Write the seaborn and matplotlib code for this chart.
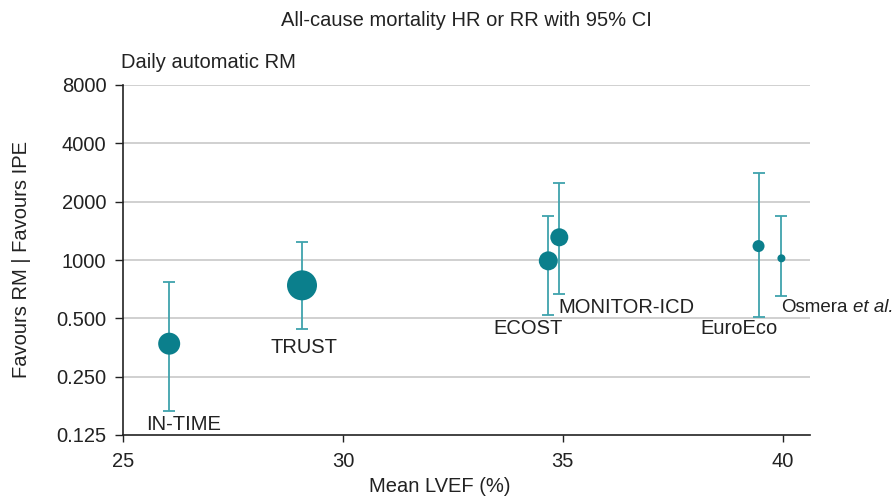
import numpy as np
import pandas as pd
import matplotlib
matplotlib.use("Agg")
import matplotlib.pyplot as plt
import seaborn as sns

# ---- data ----
studies = ["IN-TIME", "TRUST", "ECOST", "MONITOR-ICD", "EuroEco", "Osmera et al."]
lvef = [26.05, 29.07, 34.67, 34.92, 39.45, 39.97]
hr = [0.37, 0.74, 0.99, 1.31, 1.18, 1.02]
ci_low = [0.166, 0.44, 0.52, 0.67, 0.51, 0.65]
ci_high = [0.77, 1.24, 1.69, 2.50, 2.81, 1.69]
weight = [22, 30, 19, 18, 12, 8]  # marker diameters (px)
ytick_vals = [0.125, 0.25, 0.5, 1, 2, 4, 8]
ytick_labels = ["0.125", "0.250", "0.500", "1000", "2000", "4000", "8000"]
xtick_vals = [25, 30, 35, 40]

df = pd.DataFrame({"study": studies, "lvef": lvef, "hr": hr,
                   "lo": ci_low, "hi": ci_high, "w": weight})

sns.set_style("white")
plt.rcParams["font.family"] = ["Liberation Sans", "DejaVu Sans"]

FS = 14.5
TXT = "#222222"

fig = plt.figure(figsize=(8.93, 4.96), dpi=100)
ax = fig.add_axes([123 / 893, 1 - 435 / 496, (810 - 123) / 893, (435 - 85) / 496])

marker_col = "#0B7F8C"
bar_col = "#3FA3AD"

ax.set_yscale("log", base=2)
ax.set_ylim(0.125, 8)
ax.set_xlim(25, 40.62)

for y in ytick_vals[1:]:
    ax.axhline(y, color="#c8c8c8", lw=1.2, zorder=0)

ax.errorbar(df["lvef"], df["hr"],
            yerr=[df["hr"] - df["lo"], df["hi"] - df["hr"]],
            fmt="none", ecolor=bar_col, elinewidth=1.3, capsize=4.5,
            capthick=1.3, zorder=2)

sizes_map = {w: (w * 0.72) ** 2 for w in df["w"]}
sns.scatterplot(data=df, x="lvef", y="hr", size="w", sizes=sizes_map,
                color=marker_col, edgecolor="none", legend=False, ax=ax, zorder=3)

# study labels
ax.text(26.37, 0.142, "IN-TIME", ha="center", va="center", fontsize=FS, color=TXT)
ax.text(29.12, 0.355, "TRUST", ha="center", va="center", fontsize=FS, color=TXT)
ax.text(34.2, 0.445, "ECOST", ha="center", va="center", fontsize=FS, color=TXT)
ax.text(34.9, 0.572, "MONITOR-ICD", ha="left", va="center", fontsize=FS, color=TXT)
ax.text(39.0, 0.445, "EuroEco", ha="center", va="center", fontsize=FS, color=TXT)
t1 = ax.text(39.97, 0.572, "Osmera", ha="left", va="center", fontsize=13.5,
             color=TXT, clip_on=False)
ax.annotate("et al.", xy=(1, 0.5), xycoords=t1, xytext=(3.5, 0),
            textcoords="offset points", ha="left", va="center", fontsize=13.5,
            style="italic", color=TXT, annotation_clip=False)

ax.set_yticks(ytick_vals)
ax.set_yticklabels(ytick_labels)
ax.yaxis.set_minor_locator(matplotlib.ticker.NullLocator())
ax.set_xticks(xtick_vals)
ax.tick_params(axis="y", direction="out", length=6, width=1, labelsize=FS,
               colors=TXT, left=True, pad=6)
ax.tick_params(axis="x", direction="out", length=5, width=1, labelsize=FS,
               colors=TXT, bottom=True, pad=7)

for s in ["top", "right"]:
    ax.spines[s].set_visible(False)
for s in ["left", "bottom"]:
    ax.spines[s].set_color(TXT)
    ax.spines[s].set_linewidth(1.2)

ax.set_xlabel("")
ax.set_ylabel("")
fig.text(440 / 893, 1 - 487 / 496, "Mean LVEF (%)", ha="center", va="center",
         fontsize=FS, color=TXT)
fig.text(22 / 893, 1 - 260 / 496, "Favours RM | Favours IPE", ha="center", va="center",
         rotation=90, fontsize=FS, color=TXT)

fig.text(466 / 893, 1 - 20 / 496, "All-cause mortality HR or RR with 95% CI",
         ha="center", va="center", fontsize=FS, color=TXT)
fig.text(121 / 893, 1 - 62 / 496, "Daily automatic RM", ha="left", va="center",
         fontsize=FS, color=TXT)

fig.savefig("out.png", dpi=100)
